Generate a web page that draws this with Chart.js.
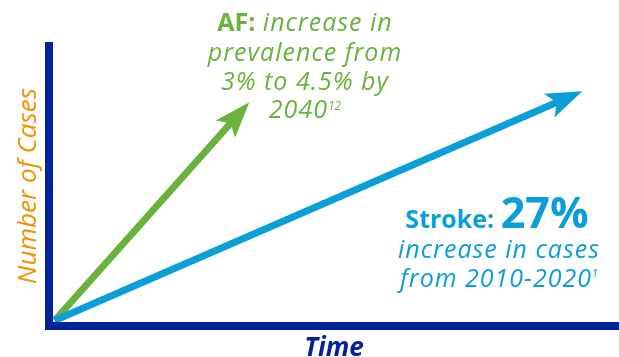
<!DOCTYPE html>
<html>
<head>
<meta charset="utf-8">
<script src="https://cdn.jsdelivr.net/npm/chart.js@4/dist/chart.umd.min.js"></script>
<style>
    html, body { margin: 0; padding: 0; background: #fff; }
    #chart-div { width: 619px; height: 357px; }
</style>
</head>
<body>
<div id="chart-div"><canvas id="chart"></canvas></div>
<script>
// values (relative units, start of trend = 0,0)
const seriesNames = ["Stroke", "AF"]
const strokeTime = [0, 93.5]
const strokeCases = [0, 83.5]
const afTime = [0, 34.5]
const afCases = [0, 79.5]

const axisTitles = ["Time", "Number of Cases"]

const NAVY = "#00239b"
const GREEN = "#6ab23e"
const BLUE = "#0b9fd8"
const ORANGE = "#f39200"
const FONT = "'Open Sans', 'DejaVu Sans', sans-serif"

function toPoints(xs, ys) {
    return xs.map(function (x, i) { return {x: x, y: ys[i]} })
}

// geometry of the arrow head at the last point of a dataset
function headShape(meta) {
    const p0 = meta.data[0]
    const p1 = meta.data[meta.data.length - 1]
    const dx = p1.x - p0.x, dy = p1.y - p0.y
    const len = Math.sqrt(dx * dx + dy * dy)
    const ux = dx / len, uy = dy / len
    const nx = -uy, ny = ux
    const L = 36, W = 13, notch = 8
    return {
        tip: [p1.x, p1.y],
        c1: [p1.x - ux * L + nx * W, p1.y - uy * L + ny * W],
        c2: [p1.x - ux * L - nx * W, p1.y - uy * L - ny * W],
        back: [p1.x - ux * (L - notch), p1.y - uy * (L - notch)],
        ux: ux, uy: uy, nx: nx, ny: ny
    }
}

const arrowHeads = {
    id: 'arrowHeads',
    beforeDatasetDraw(chart, args) {
        // keep the shaft from poking out past the head
        const ctx = chart.ctx
        const h = headShape(args.meta)
        const b = h.back, t = h.tip
        ctx.save()
        ctx.beginPath()
        ctx.rect(0, 0, chart.width, chart.height)
        ctx.moveTo(b[0] + h.nx * 20, b[1] + h.ny * 20)
        ctx.lineTo(t[0] + h.ux * 10 + h.nx * 20, t[1] + h.uy * 10 + h.ny * 20)
        ctx.lineTo(t[0] + h.ux * 10 - h.nx * 20, t[1] + h.uy * 10 - h.ny * 20)
        ctx.lineTo(b[0] - h.nx * 20, b[1] - h.ny * 20)
        ctx.closePath()
        ctx.clip('evenodd')
    },
    afterDatasetDraw(chart, args) {
        const ctx = chart.ctx
        ctx.restore()
        const h = headShape(args.meta)
        ctx.save()
        ctx.fillStyle = args.meta.dataset.options.borderColor
        ctx.beginPath()
        ctx.moveTo(h.tip[0], h.tip[1])
        ctx.lineTo(h.c1[0], h.c1[1])
        ctx.lineTo(h.back[0], h.back[1])
        ctx.lineTo(h.c2[0], h.c2[1])
        ctx.closePath()
        ctx.fill()
        ctx.restore()
    }
}

// one centred line made of differently styled pieces
function drawRuns(ctx, cx, y, runs) {
    let total = 0
    runs.forEach(function (r) {
        ctx.font = r.font
        ctx.letterSpacing = r.spacing || "0px"
        r.w = ctx.measureText(r.text).width
        total += r.w
    })
    let x = cx - total / 2
    runs.forEach(function (r) {
        ctx.font = r.font
        ctx.letterSpacing = r.spacing || "0px"
        ctx.fillText(r.text, x, y - (r.rise || 0))
        x += r.w
    })
    ctx.letterSpacing = "0px"
}

const callouts = {
    id: 'callouts',
    afterDraw(chart) {
        const ctx = chart.ctx
        ctx.save()
        ctx.textBaseline = 'alphabetic'
        ctx.textAlign = 'left'

        const bold = "bold 25px " + FONT
        const ital = "italic 25px " + FONT
        const sp = "1px"

        ctx.fillStyle = GREEN
        drawRuns(ctx, 305, 31, [{text: "AF:", font: bold}, {text: " increase in", font: ital, spacing: sp}])
        drawRuns(ctx, 305, 61, [{text: "prevalence from", font: ital, spacing: sp}])
        drawRuns(ctx, 305, 90, [{text: "3% to 4.5% by", font: ital, spacing: sp}])
        drawRuns(ctx, 305, 118, [{text: "2040", font: ital, spacing: sp}, {text: "12", font: "italic 12px " + FONT, rise: 8}])

        ctx.fillStyle = BLUE
        drawRuns(ctx, 497, 228, [{text: "Stroke: ", font: bold}, {text: "27%", font: "bold 43px " + FONT}])
        drawRuns(ctx, 499, 258, [{text: "increase in cases", font: ital, spacing: sp}])
        drawRuns(ctx, 499, 287, [{text: "from 2010-2020", font: ital, spacing: sp}, {text: "1", font: "italic 11px " + FONT, rise: 10}])
        ctx.restore()
    }
}

const chartCtx = document.getElementById('chart').getContext('2d')
new Chart(chartCtx, {
    type: 'line',
    data: {
        datasets: [{
            label: seriesNames[0],
            data: toPoints(strokeTime, strokeCases),
            borderColor: BLUE,
            borderWidth: 7,
            pointRadius: 0
        }, {
            label: seriesNames[1],
            data: toPoints(afTime, afCases),
            borderColor: GREEN,
            borderWidth: 7,
            pointRadius: 0
        }]
    },
    options: {
        responsive: true,
        maintainAspectRatio: false,
        animation: false,
        events: [],
        layout: {padding: {top: 46, right: 0, bottom: 0, left: 0}},
        plugins: {
            legend: {display: false},
            tooltip: {enabled: false}
        },
        scales: {
            x: {
                type: 'linear',
                min: -1,
                max: 100,
                grid: {display: false, drawTicks: false},
                ticks: {display: false},
                border: {display: true, color: NAVY, width: 8, z: 1},
                title: {
                    display: true,
                    text: axisTitles[0],
                    color: NAVY,
                    padding: 0,
                    font: {family: FONT, size: 26, weight: 'bold', style: 'italic', lineHeight: 0.65}
                },
                afterFit: function (scale) { scale.height = 31 }
            },
            y: {
                type: 'linear',
                min: -2,
                max: 100,
                grid: {display: false, drawTicks: false},
                ticks: {display: false},
                border: {display: true, color: NAVY, width: 8, z: 1},
                title: {
                    display: true,
                    text: axisTitles[1],
                    color: ORANGE,
                    padding: {top: 16, bottom: 0},
                    font: {family: FONT, size: 26, weight: 500, style: 'italic', lineHeight: 1}
                },
                afterFit: function (scale) { scale.width = 49 }
            }
        }
    },
    plugins: [arrowHeads, callouts]
})
</script>
</body>
</html>
